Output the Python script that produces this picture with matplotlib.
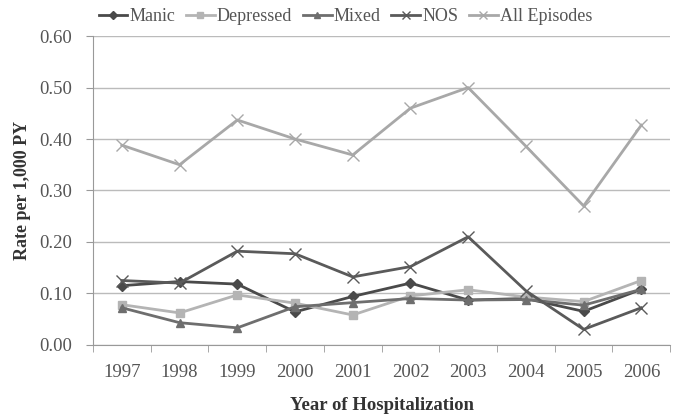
import matplotlib.pyplot as plt
import numpy as np

plt.rcParams['font.family'] = ['Liberation Serif', 'DejaVu Serif']

years = [1997, 1998, 1999, 2000, 2001, 2002, 2003, 2004, 2005, 2006]
manic = [0.115, 0.123, 0.118, 0.064, 0.094, 0.120, 0.087, 0.090, 0.065, 0.108]
depressed = [0.078, 0.062, 0.097, 0.081, 0.058, 0.095, 0.107, 0.093, 0.084, 0.125]
mixed = [0.072, 0.043, 0.033, 0.074, 0.082, 0.090, 0.087, 0.088, 0.077, 0.108]
nos = [0.125, 0.120, 0.182, 0.177, 0.132, 0.152, 0.210, 0.105, 0.030, 0.072]
all_ep = [0.388, 0.350, 0.437, 0.400, 0.369, 0.460, 0.500, 0.386, 0.270, 0.427]

fig = plt.figure(figsize=(6.79, 4.2), dpi=100)
ax = fig.add_axes([0.137, 0.179, 0.850, 0.735])

ax.plot(years, manic, color='#4a4a4a', lw=2, marker='D', ms=5, label='Manic')
ax.plot(years, depressed, color='#b4b4b4', lw=2, marker='s', ms=6, label='Depressed')
ax.plot(years, mixed, color='#6e6e6e', lw=2, marker='^', ms=6, label='Mixed')
ax.plot(years, nos, color='#5a5a5a', lw=2, marker='x', ms=8, mew=1, label='NOS')
ax.plot(years, all_ep, color='#a8a8a8', lw=2, marker='x', ms=8, mew=1, label='All Episodes')

ax.set_xlim(1996.5, 2006.5)
ax.set_ylim(0, 0.6)
ax.set_yticks(np.arange(0, 0.61, 0.1))
ax.set_yticklabels(['%.2f' % v for v in np.arange(0, 0.61, 0.1)])
ax.set_xticks(years)
ax.set_xticks(np.arange(1996.5, 2007, 1), minor=True)
ax.tick_params(axis='x', which='major', length=0, pad=14)
ax.tick_params(axis='x', which='minor', length=5, color='#999999')
ax.tick_params(axis='y', length=5, color='#999999', pad=10)
ax.tick_params(labelsize=13.5, labelcolor='#555555')

ax.grid(axis='y', color='#bbbbbb', lw=1)
ax.set_axisbelow(True)
for s in ['top', 'right']:
    ax.spines[s].set_visible(False)
ax.spines['left'].set_color('#999999')
ax.spines['bottom'].set_color('#999999')

ax.set_xlabel('Year of Hospitalization', fontsize=13.5, fontweight='bold', color='#333333', labelpad=11)
ax.set_ylabel('Rate per 1,000 PY', fontsize=13, fontweight='bold', color='#333333', labelpad=6)

leg = ax.legend(loc='lower center', bbox_to_anchor=(0.437, 1.012), ncol=5, frameon=False,
                fontsize=13, handlelength=1.6, handletextpad=0.1, columnspacing=0.6,
                labelcolor='#555555', borderaxespad=0, markerscale=0.8)

fig.savefig('out.png', dpi=100)
